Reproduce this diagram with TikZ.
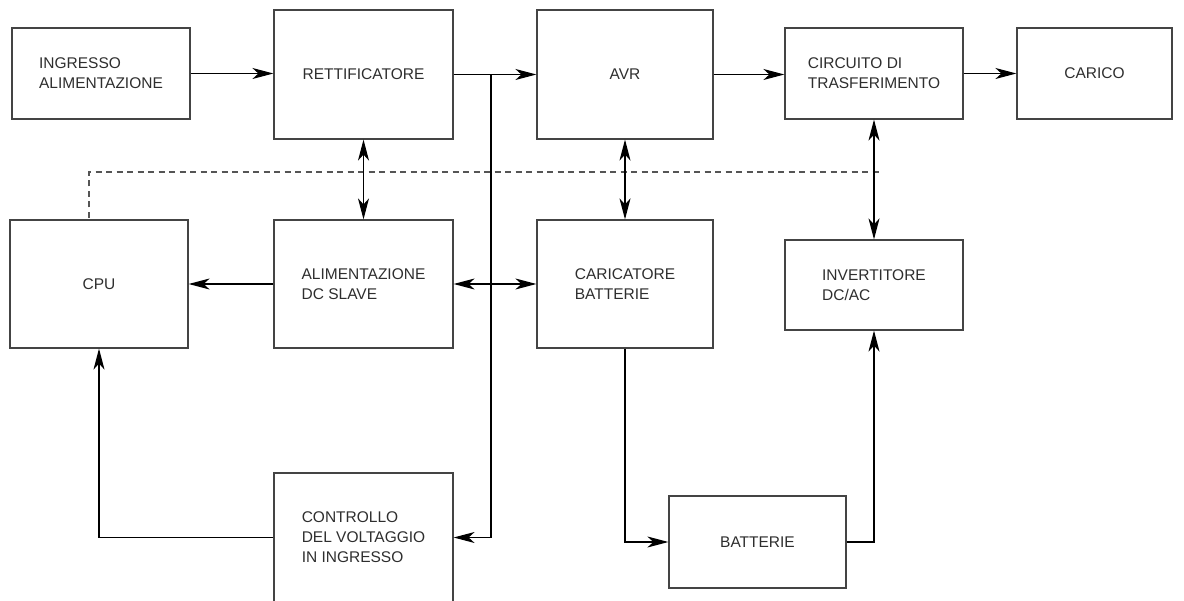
\documentclass[tikz,border=0pt]{standalone}
\usepackage{fontspec}
\setmainfont{Liberation Sans}
\usetikzlibrary{arrows.meta}
\definecolor{boxgray}{HTML}{444444}
\definecolor{txtgray}{HTML}{2E2E2E}
\definecolor{dashgray}{HTML}{555555}
\tikzset{
    blk/.style 2 args={
        draw=boxgray, line width=1.2pt, fill=white,
        minimum width=#1pt, minimum height=#2pt, inner sep=0pt,
        align=left, text=txtgray,
        font=\fontsize{15.5pt}{20pt}\selectfont
    },
    arr/.style={-{Stealth[length=21pt,width=11pt,inset=6pt]}, line width=1.3pt},
    dblarr/.style={{Stealth[length=21pt,width=11pt,inset=6pt]}-{Stealth[length=21pt,width=11pt,inset=6pt]}, line width=1.3pt},
    ctrlline/.style={dashgray, line width=1.3pt, dash pattern=on 6pt off 4.5pt},
}
\begin{document}
\begin{tikzpicture}[x=1pt,y=-1pt]
    \useasboundingbox[fill=white] (0,0) rectangle (1184,601);
    % top row
    \node[blk={178}{91}] (ing) at (101,73.5) {INGRESSO\\ALIMENTAZIONE};
    \node[blk={179}{129}] (rett) at (363.5,74.5) {RETTIFICATORE};
    \node[blk={176}{129}] (avr) at (625,74.5) {AVR};
    \node[blk={178}{91}] (circ) at (874,73.5) {CIRCUITO DI\\TRASFERIMENTO};
    \node[blk={155}{91}] (carico) at (1094.5,73.5) {CARICO};
    % middle row
    \node[blk={178}{128}] (cpu) at (99,284) {CPU};
    \node[blk={179}{128}] (alim) at (363.5,284) {ALIMENTAZIONE\\DC SLAVE};
    \node[blk={176}{128}] (caric) at (625,284) {CARICATORE\\BATTERIE};
    \node[blk={178}{90}] (inv) at (874,285) {INVERTITORE\\DC/AC};
    % bottom row
    \node[blk={179}{129}] (ctrl) at (363.5,537.5) {CONTROLLO\\DEL VOLTAGGIO\\IN INGRESSO};
    \node[blk={177}{92}] (batt) at (757.5,542) {BATTERIE};

    \coordinate (split) at (491,74.5);
    \coordinate (dstart) at (89,218);
    \coordinate (dend) at (881,172);

    \draw[ctrlline] (dstart) |- (dend);

    \draw[arr] (ing.east) -- (ing.east -| rett.west);
    \draw[arr] (rett) -- (avr);
    \draw[arr] (avr.east) -- (avr.east -| circ.west);
    \draw[arr] (circ) -- (carico);
    \draw[dblarr] (rett) -- (alim);
    \draw[dblarr] (avr) -- (caric);
    \draw[dblarr] (circ) -- (inv);
    \draw[arr] (alim) -- (cpu);
    \draw[dblarr] (alim) -- (caric);
    \draw[arr] (split) |- (ctrl.east);
    \draw[arr] (ctrl.west) -| (cpu.south);
    \draw[arr] (caric.south) |- (batt.west);
    \draw[arr] (batt.east) -| (inv.south);
\end{tikzpicture}
\end{document}
